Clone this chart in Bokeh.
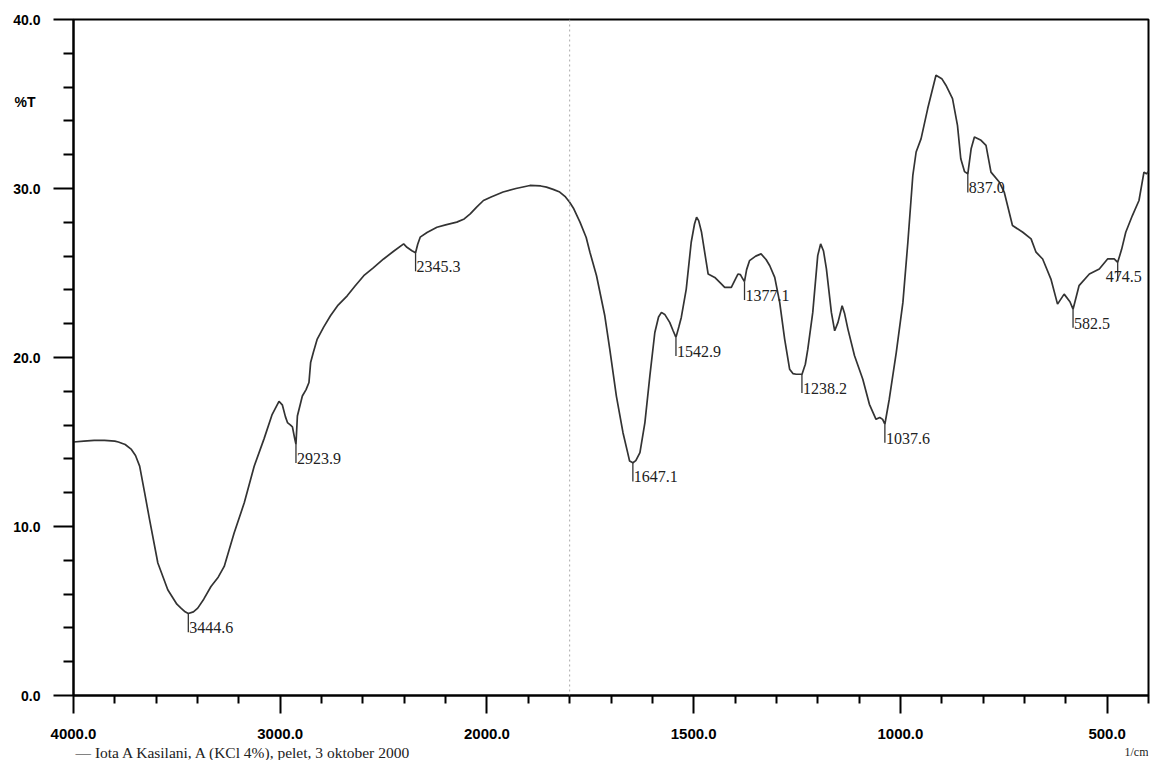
import numpy as np
from bokeh.plotting import figure
from bokeh.layouts import column
from bokeh.models import Range1d, FixedTicker, Span, ColumnDataSource, LinearAxis
from bokeh.embed import file_html
from bokeh.resources import INLINE
from bokeh.core.properties import value

# ---- data ----
wavenumber = [4000, 3950, 3900, 3850, 3800, 3783, 3750, 3720, 3700, 3680, 3656, 3632, 3592, 3544,
              3500, 3480, 3460, 3444.6, 3420, 3399, 3370, 3335, 3300, 3271, 3223, 3174, 3126, 3078,
              3040, 3006, 2990, 2975, 2965, 2950, 2941, 2930, 2923.9, 2917, 2893, 2875, 2861, 2853,
              2840, 2821, 2790, 2757, 2720, 2676, 2640, 2596, 2550, 2500, 2450, 2403, 2387, 2363,
              2345.3, 2335, 2323, 2290, 2242, 2200, 2146, 2110, 2081, 2050, 2017, 1990, 1961, 1930,
              1896, 1870, 1856, 1840, 1824, 1810, 1800, 1790, 1775, 1760, 1751, 1735, 1715, 1703,
              1687, 1671, 1660, 1655, 1647.1, 1640, 1630, 1618, 1606, 1594, 1585, 1578, 1570, 1558,
              1550, 1542.9, 1536, 1530, 1518, 1506, 1498, 1493, 1488, 1481, 1470, 1465, 1449, 1435,
              1425, 1409, 1400, 1393, 1387, 1381, 1377.1, 1372, 1365, 1350, 1337, 1325, 1316, 1304,
              1292, 1280, 1268, 1260, 1252, 1240, 1238.2, 1230, 1224, 1212, 1200, 1193, 1186, 1179,
              1167, 1159, 1151, 1141, 1135, 1127, 1111, 1091, 1075, 1059, 1050, 1043, 1037.6, 1027,
              1010, 994, 982, 970, 962, 950, 934, 914, 900, 890, 874, 862, 854, 845, 837, 829, 821,
              805, 793, 781, 761, 749, 729, 704, 684, 672, 656, 636, 620, 604, 590, 582.5, 568, 543,
              519, 499, 483, 474.5, 465, 455, 439, 423, 411, 405, 400]
transmittance = [15.0, 15.05, 15.1, 15.1, 15.05, 15.0, 14.85, 14.56, 14.2, 13.57, 12.0, 10.41, 7.84, 6.26,
                 5.4, 5.17, 4.95, 4.85, 4.95, 5.17, 5.7, 6.45, 7.0, 7.64, 9.62, 11.4, 13.57, 15.2,
                 16.6, 17.4, 17.2, 16.5, 16.15, 16.0, 15.9, 15.2, 14.86, 16.54, 17.72, 18.1, 18.52, 19.7,
                 20.3, 21.09, 21.8, 22.47, 23.1, 23.65, 24.2, 24.84, 25.3, 25.83, 26.3, 26.72, 26.52, 26.32,
                 26.2, 26.7, 27.12, 27.4, 27.71, 27.85, 28.01, 28.2, 28.5, 28.9, 29.29, 29.5, 29.79, 30.0,
                 30.18, 30.15, 30.08, 29.95, 29.79, 29.5, 29.19, 28.8, 28.01, 27.1, 26.23, 24.84, 22.47, 20.49,
                 17.72, 15.55, 14.4, 13.87, 13.77, 13.9, 14.37, 16.15, 18.91, 21.48, 22.4, 22.67, 22.55, 22.08,
                 21.6, 21.19, 21.8, 22.37, 24.05, 26.82, 27.9, 28.3, 28.1, 27.41, 25.7, 24.94, 24.74, 24.4,
                 24.15, 24.15, 24.6, 24.94, 24.9, 24.64, 24.5, 25.2, 25.73, 26.0, 26.13, 25.8, 25.43, 24.74,
                 23.26, 21.09, 19.31, 19.05, 19.01, 19.01, 19.0, 19.6, 20.49, 22.67, 26.03, 26.72, 26.3, 25.24,
                 22.67, 21.58, 22.08, 23.06, 22.6, 21.68, 20.1, 18.71, 17.23, 16.34, 16.45, 16.34, 16.05, 17.53,
                 20.3, 23.26, 26.82, 30.77, 32.16, 32.95, 34.73, 36.7, 36.5, 36.11, 35.32, 33.74, 31.76, 31.0, 30.87, 32.35, 33.05,
                 32.85, 32.55, 30.97, 30.38, 29.79, 27.81, 27.41, 27.02, 26.23, 25.83, 24.64, 23.16, 23.75, 23.3, 22.86, 24.25, 24.94,
                 25.24, 25.83, 25.83, 25.63, 26.4, 27.41, 28.4, 29.29, 30.97, 30.87, 31.0]

peak_wn = [3444.6, 2923.9, 2345.3, 1647.1, 1542.9, 1377.1, 1238.2, 1037.6, 837.0, 582.5, 474.5]
peak_T = [4.85, 14.86, 26.2, 13.77, 21.19, 24.5, 19.0, 16.05, 30.87, 22.86, 25.63]

x_major = [4000, 3000, 2000, 1500, 1000, 500]
x_minor = [3800, 3600, 3400, 3200, 2800, 2600, 2400, 2200,
           1900, 1800, 1700, 1600, 1400, 1300, 1200, 1100,
           900, 800, 700, 600, 400]
y_major = [0, 10, 20, 30, 40]
y_minor = [2, 4, 6, 8, 12, 14, 16, 18, 22, 24, 26, 28, 32, 34, 36, 38]
y_title = "%T"
y_title_pos = 35.1
x_unit = "1/cm"
series_name = "\u2014 Iota A Kasilani, A (KCl 4%), pelet, 3 oktober 2000"


# piecewise wavenumber scale: 4000-2000 compressed 2x relative to 2000-400
def to_u(wn):
    wn = np.asarray(wn, dtype=float)
    return np.where(wn >= 2000, (4000 - wn) / 2.0, 1000 + (2000 - wn))


W = 1150
BL, BR = 73, 2
p = figure(width=W, height=744, x_range=Range1d(0, 2600), y_range=Range1d(0, 40),
           output_backend="svg", toolbar_location=None,
           min_border_left=BL, min_border_right=BR, min_border_top=19, min_border_bottom=49)
p.grid.visible = False
p.outline_line_color = "black"
p.outline_line_width = 2
p.background_fill_color = "white"
p.border_fill_color = "white"

p.add_layout(Span(location=float(to_u(1800)), dimension="height", line_color="#aaaaaa",
                  line_dash="2 3", line_width=1))

p.line(to_u(wavenumber), transmittance, line_color="#333333", line_width=1.7)

# peak markers
pk = ColumnDataSource(dict(
    x=to_u(peak_wn), y=peak_T, y1=np.asarray(peak_T) - 1.1,
    label=[f"{w:.1f}" for w in peak_wn],
    dx=[1 if w > 480 else -12 for w in peak_wn],
))
p.segment(x0="x", y0="y", x1="x", y1="y1", source=pk, line_color="#333333", line_width=1.3)
p.text(x="x", y="y", text="label", source=pk, x_offset="dx", y_offset=14,
       text_font=value("Liberation Serif"), text_font_size="16px",
       text_baseline="middle", text_align="left", text_color="#222222")

# x axis
xa = p.xaxis[0]
xa.ticker = FixedTicker(ticks=[int(v) for v in to_u(x_major)],
                        minor_ticks=[int(v) for v in to_u(x_minor)])
xa.major_label_overrides = {int(u): f"{w:.1f}" for u, w in zip(to_u(x_major), x_major)}
xa.major_tick_out = 18
xa.major_tick_in = 0
xa.minor_tick_out = 8
xa.minor_tick_in = 0
xa.major_label_standoff = 15
xa.major_label_text_font_size = "15px"

# y axis
ya = p.yaxis[0]
ya.ticker = FixedTicker(ticks=y_major, minor_ticks=y_minor)
ya.major_label_overrides = {v: f"{v:.1f}" for v in y_major}
ya.major_label_text_font_size = "14px"
ya.major_label_standoff = 13
ya.major_tick_out = 20
ya.major_tick_in = 0
ya.minor_tick_out = 10
ya.minor_tick_in = 0

# outer axis carrying only the "%T" title, pulled back over the label column
yt = LinearAxis(ticker=FixedTicker(ticks=[y_title_pos], minor_ticks=[]),
                axis_line_color=None, major_tick_line_color=None, minor_tick_line_color=None,
                major_tick_out=0, major_tick_in=0, minor_tick_out=0, minor_tick_in=0,
                major_label_standoff=-25)
yt.major_label_overrides = {y_title_pos: y_title}
yt.major_label_text_font_size = "14px"
p.add_layout(yt, "left")

for ax in (xa, ya, yt):
    ax.major_label_text_font = "Liberation Sans"
    ax.major_label_text_font_style = "bold"
    ax.major_label_text_color = "black"
for ax in (xa, ya):
    ax.axis_line_width = 2
    ax.axis_line_color = "black"
    ax.major_tick_line_width = 2
    ax.minor_tick_line_width = 2
    ax.major_tick_line_color = "black"
    ax.minor_tick_line_color = "black"

# caption strip under the chart (frame aligned with the chart): series legend and unit
cap = figure(width=W, height=16, x_range=Range1d(BL, W - BR), y_range=Range1d(0, 16),
             output_backend="svg", toolbar_location=None,
             min_border_left=BL, min_border_right=BR, min_border_top=0, min_border_bottom=0)
cap.axis.visible = False
cap.grid.visible = False
cap.outline_line_color = None
cap.text(x=[75], y=[8], text=[series_name], text_font=value("Liberation Serif"),
         text_font_size="15.5px", text_baseline="middle", text_align="left", text_color="#222222")
cap.text(x=[1148], y=[9], text=[x_unit], text_font=value("Liberation Serif"),
         text_font_size="12px", text_baseline="middle", text_align="right", text_color="#222222")

layout = column(p, cap, spacing=0)
open("out.html", "w").write(file_html(layout, INLINE))
